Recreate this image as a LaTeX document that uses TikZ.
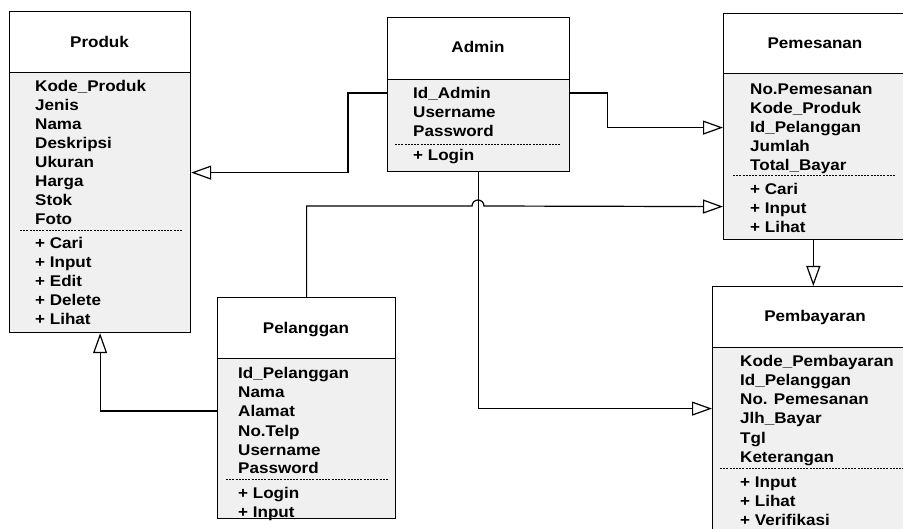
\documentclass[tikz,border=0pt]{standalone}
\usepackage{fontspec}
\setmainfont{Liberation Sans}[FakeStretch=1.1]
\usetikzlibrary{arrows.meta}
\definecolor{boxgray}{HTML}{F0F0F0}
\tikzset{
  hdr/.style={draw, line width=1.2pt, fill=white, anchor=north west, inner sep=0pt},
  bodybox/.style={draw, line width=1.2pt, fill=boxgray, anchor=north west, inner sep=0pt},
  txt/.style={anchor=base west, inner sep=0pt, font=\fontsize{15.5}{19}\selectfont\bfseries},
  ttl/.style={inner sep=0pt, font=\fontsize{15.5}{19}\selectfont\bfseries},
  sep/.style={line width=0.8pt, dash pattern=on 2pt off 1.2pt},
  conn/.style={line width=1.2pt},
  arr/.style={-{Triangle[open, length=20pt, width=14pt, line width=1.2pt]}}
}
\begin{document}
\begin{tikzpicture}[x=1pt, y=-1pt]
\useasboundingbox (0,0) rectangle (903,529);
\clip (0,0) rectangle (903,529);
% ---------- Produk
\node[hdr, minimum width=181pt, minimum height=61pt] (produkH) at (9,11) {};
\node[bodybox, minimum width=181pt, minimum height=260pt] (produkB) at (9,72) {};
\node[ttl] (produkT) at (99.5,42) {Produk};
\foreach \t [count=\i from 0] in {Kode\_Produk, Jenis, Nama, Deskripsi, Ukuran, Harga, Stok, Foto}
  \node[txt] (pa\i) at (35,{92+19*\i}) {\t};
\draw[sep] (20,230) -- (183,230);
\foreach \t [count=\i from 0] in {+ Cari, + Input, + Edit, + Delete, + Lihat}
  \node[txt] (pm\i) at (35,{249+19*\i}) {\t};
% ---------- Admin
\node[hdr, minimum width=182pt, minimum height=62pt] (adminH) at (387,17) {};
\node[bodybox, minimum width=182pt, minimum height=92pt] (adminB) at (387,79) {};
\node[ttl] (adminT) at (478,47) {Admin};
\foreach \t [count=\i from 0] in {Id\_Admin, Username, Password}
  \node[txt] (aa\i) at (413,{99+19*\i}) {\t};
\draw[sep] (395,144) -- (560,144);
\node[txt] (am0) at (413,161) {+ Login};
% ---------- Pemesanan
\node[hdr, minimum width=179.5pt, minimum height=60pt] (pemesananH) at (723,13) {};
\node[bodybox, minimum width=179.5pt, minimum height=166pt] (pemesananB) at (723,73) {};
\node[ttl] (pemesananT) at (815,43) {Pemesanan};
\foreach \t [count=\i from 0] in {No.Pemesanan, Kode\_Produk, Id\_Pelanggan, Jumlah, Total\_Bayar}
  \node[txt] (ea\i) at (750,{95+19*\i}) {\t};
\draw[sep] (733,175) -- (895,175);
\foreach \t [count=\i from 0] in {+ Cari, + Input, + Lihat}
  \node[txt] (em\i) at (750,{195+19*\i}) {\t};
% ---------- Pelanggan
\node[hdr, minimum width=178pt, minimum height=61pt] (pelangganH) at (217,297) {};
\node[bodybox, minimum width=178pt, minimum height=160pt] (pelangganB) at (217,358) {};
\node[ttl] (pelangganT) at (306,330) {Pelanggan};
\foreach \t [count=\i from 0] in {Id\_Pelanggan, Nama, Alamat, No.Telp, Username, Password}
  \node[txt] (la\i) at (238,{379+19*\i}) {\t};
\draw[sep] (226,479) -- (388,479);
\foreach \t [count=\i from 0] in {+ Login, + Input}
  \node[txt] (lm\i) at (238,{498+19*\i}) {\t};
% ---------- Pembayaran
\node[hdr, minimum width=203pt, minimum height=61pt] (pembayaranH) at (712,286) {};
\node[bodybox, minimum width=203pt, minimum height=200pt] (pembayaranB) at (712,347) {};
\node[ttl] (pembayaranT) at (815,317) {Pembayaran};
\foreach \t [count=\i from 0] in {Kode\_Pembayaran, Id\_Pelanggan, No. Pemesanan, Jlh\_Bayar, Tgl, Keterangan}
  \node[txt] (ba\i) at (740,{367+19*\i}) {\t};
\draw[sep] (720,468) -- (903,468);
\foreach \t [count=\i from 0] in {+ Input, + Lihat, + Verifikasi}
  \node[txt] (bm\i) at (740,{487+19*\i}) {\t};
% ---------- connectors
\draw[conn,arr] ([yshift=-14pt]adminB.north west) -- ++(-39,0) |- ([yshift=30pt]produkB.east);
\draw[conn,arr] ([yshift=-14pt]adminB.north east) -- ++(37,0) |- ([yshift=29pt]pemesananB.west);
\draw[conn,arr] (adminB.south) |- ([yshift=39pt]pembayaranB.west);
\draw[conn,arr] (pelangganH.north) |- (472,206) arc (180:360:6) -- ([yshift=-50pt]pemesananB.west);
\draw[conn,arr] ([yshift=27.5pt]pelangganB.west) -| (produkB.south);
\draw[conn,arr] (pemesananB.south) -- (pemesananB.south |- pembayaranH.north);
\end{tikzpicture}
\end{document}
